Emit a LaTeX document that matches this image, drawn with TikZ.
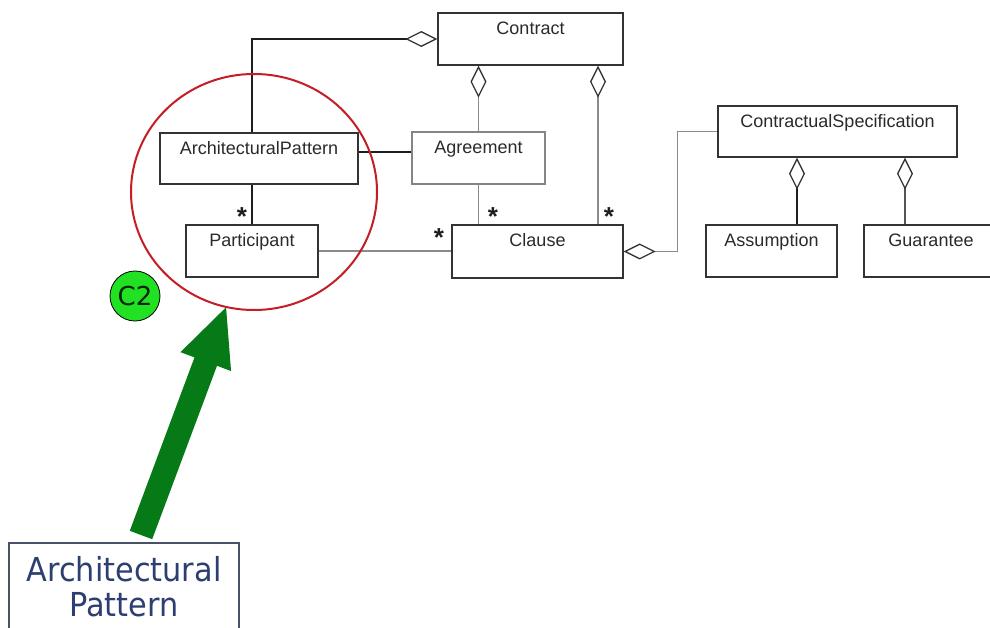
\documentclass[tikz,border=0pt]{standalone}
\usepackage{fontspec}
\setmainfont{Liberation Sans}
\newfontfamily\calloutfont[FakeStretch=0.92]{DejaVu Sans}
\newfontfamily\badgefont{DejaVu Sans}
\usetikzlibrary{arrows.meta,calc,shapes.geometric}

\definecolor{boxline}{HTML}{333333}
\definecolor{softbox}{HTML}{858585}
\definecolor{softline}{HTML}{8A8A8A}
\definecolor{darkline}{HTML}{1E1E1E}
\definecolor{midline}{HTML}{555555}
\definecolor{nametext}{HTML}{2A2A2A}
\definecolor{ringred}{HTML}{C41E24}
\definecolor{badgegreen}{HTML}{22E022}
\definecolor{arrowgreen}{HTML}{057A16}
\definecolor{calloutblue}{HTML}{2D3E70}
\definecolor{calloutframe}{HTML}{4A5068}

\tikzset{
  cls/.style={draw=boxline, line width=1.4pt, inner sep=0pt, fill=white},
  clsname/.style={anchor=base, inner sep=0pt, text=nametext,
    font=\fontsize{18}{20}\selectfont},
  mult/.style={anchor=base, inner sep=0pt, text=darkline,
    font=\bfseries\fontsize{26}{26}\selectfont},
  assoc/.style={line width=1.5pt},
  aggr/.style={line width=1.5pt,
    {Diamond[open,length=32pt,width=16pt,color=boxline,line width=1.3pt]}-},
}

\begin{document}
\begin{tikzpicture}[x=1pt,y=-1pt]
  \useasboundingbox (0,0) rectangle (990,628);
  \clip (0,0) rectangle (990,628);
  \fill[white] (0,0) rectangle (990,628);

  % class boxes
  \node[cls, minimum width=185pt, minimum height=52pt] (contract) at (530.5,39) {};
  \node[cls, minimum width=198pt, minimum height=51pt] (ap) at (259,158.5) {};
  \node[cls, draw=softbox, minimum width=133pt, minimum height=52pt] (agreement) at (478.5,158) {};
  \node[cls, minimum width=132pt, minimum height=52pt] (participant) at (252,251) {};
  \node[cls, minimum width=171pt, minimum height=53pt] (clause) at (537.5,251.5) {};
  \node[cls, minimum width=239pt, minimum height=51pt] (cs) at (837.5,131.5) {};
  \node[cls, minimum width=131pt, minimum height=52pt] (assumption) at (771.5,251) {};
  \node[cls, minimum width=134pt, minimum height=52pt] (guarantee) at (931,251) {};

  % class names
  \node[clsname] (contract-t) at ([yshift=-22pt]contract.north) {Contract};
  \node[clsname] (ap-t) at ([yshift=-22pt]ap.north) {ArchitecturalPattern};
  \node[clsname] (agreement-t) at ([yshift=-22pt]agreement.north) {Agreement};
  \node[clsname] (participant-t) at ([yshift=-22pt]participant.north) {Participant};
  \node[clsname] (clause-t) at ([yshift=-22pt]clause.north) {Clause};
  \node[clsname] (cs-t) at ([yshift=-22pt]cs.north) {ContractualSpecification};
  \node[clsname] (assumption-t) at ([yshift=-22pt]assumption.north) {Assumption};
  \node[clsname] (guarantee-t) at ([yshift=-22pt]guarantee.north) {Guarantee};

  % connector columns
  \coordinate (cc) at (598,0);
  \coordinate (ca) at (797,0);
  \coordinate (cg) at (905,0);

  % associations and aggregations
  \draw[aggr, draw=darkline] (contract.west) -| ([xshift=-7pt]ap.north);
  \draw[aggr, draw=softline] (contract.south -| agreement.north) -- (agreement.north);
  \draw[aggr, draw=softline] (contract.south -| cc) -- (clause.north -| cc);
  \draw[assoc, draw=darkline] ([yshift=6pt]agreement.west) -- ([yshift=6pt]agreement.west -| ap.east);
  \draw[assoc, draw=darkline] (ap.south -| participant.north) -- (participant.north);
  \draw[assoc, draw=softline] (agreement.south) -- (agreement.south |- clause.north);
  \draw[assoc, draw=softline] (participant.east) -- (participant.east -| clause.west);
  \draw[aggr, draw=softline] (clause.east) -- ++(54,0) |- (cs.west);
  \draw[aggr, draw=darkline] (cs.south -| ca) -- (assumption.north -| ca);
  \draw[aggr, draw=midline] (cs.south -| cg) -- (guarantee.north -| cg);

  % multiplicities
  \node[mult] (m-ap) at (242,226) {*};
  \node[mult] (m-ag) at (493,226) {*};
  \node[mult] (m-co) at (609,226) {*};
  \node[mult] (m-pa) at (439,247) {*};

  % highlight ring
  \node[ellipse, draw=ringred, line width=2pt, minimum width=246pt,
        minimum height=236pt, inner sep=0pt] (ring) at (254,192) {};

  % badge
  \node[circle, draw=black, line width=0.8pt, fill=badgegreen, minimum size=50pt,
        inner sep=0pt, text=black!85!green, font=\badgefont\fontsize{26}{26}\selectfont]
        (c2) at (135,296) {C2};

  % callout arrow
  \fill[arrowgreen] (129.8,530.8) -- (194.5,357.4) -- (180.45,352.15) -- (226.05,307.3)
        -- (231.05,371.05) -- (217,365.8) -- (152.2,539.2) -- cycle;

  % callout label
  \node[draw=calloutframe, line width=1.2pt, fill=white, minimum width=230pt,
        minimum height=100pt, inner sep=0pt] (callout) at (124,593) {};
  \node[anchor=north, align=center, inner sep=0pt, text=calloutblue,
        font=\calloutfont\fontsize{33}{35}\selectfont] (callout-t) at (124,556)
        {Architectural\\Pattern};
\end{tikzpicture}
\end{document}
